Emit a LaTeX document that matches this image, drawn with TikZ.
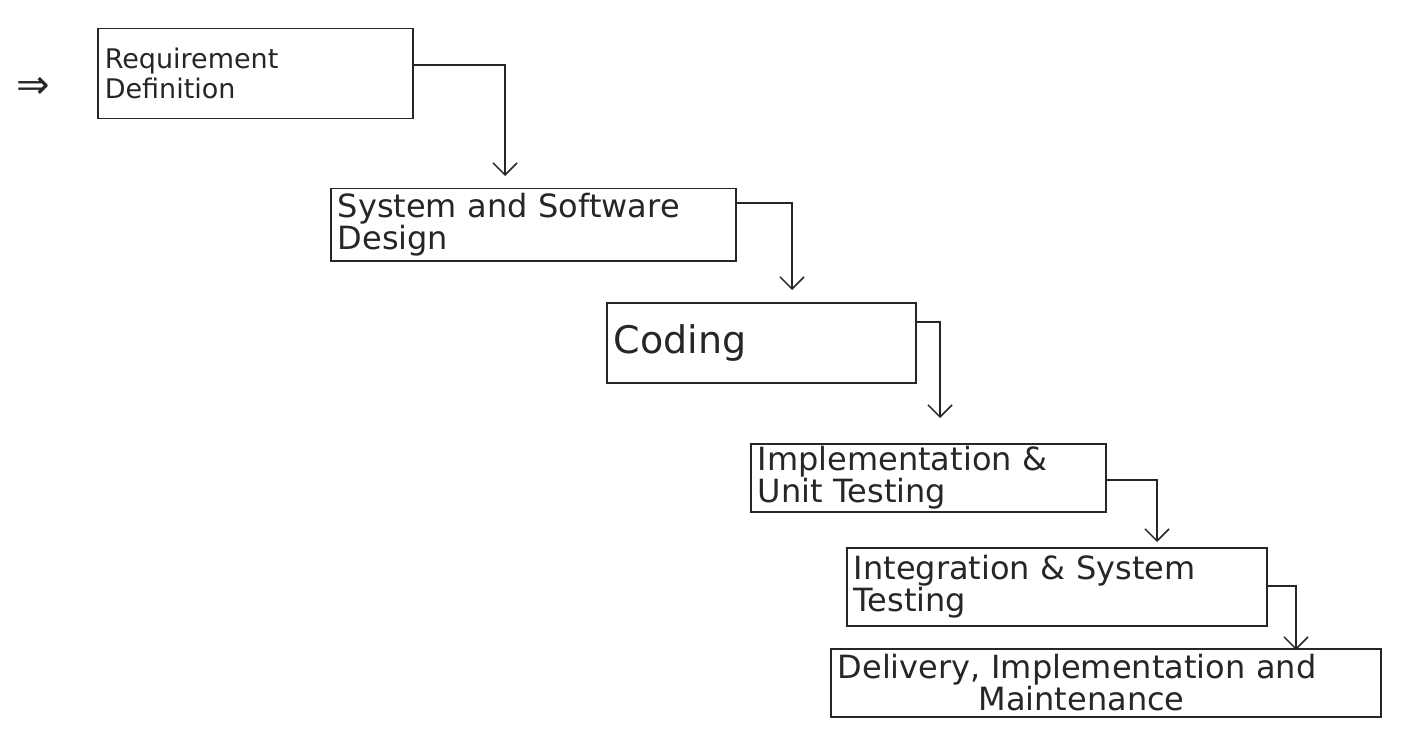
\documentclass[tikz,border=0pt]{standalone}
\usepackage{fontspec}
\setmainfont{DejaVu Sans}
\usetikzlibrary{arrows.meta,calc}
\definecolor{inkc}{HTML}{262626}
\begin{document}
\begin{tikzpicture}[x=1pt,y=-1pt,
  ink/.style={draw=inkc, line width=1.5pt},
  phase/.style={ink, rectangle, anchor=north west, inner xsep=7pt, inner ysep=2pt,
    align=left, text=inkc, font=\fontsize{32}{32}\selectfont},
  flow/.style={ink, -{Straight Barb[length=12pt,width=24pt,line width=1.5pt]}}]
  % page
  \fill[white] (0,0) rectangle (1412,735);
  \path[use as bounding box] (0,0) rectangle (1412,735);

  % marker in the margin
  \node[text=inkc, font=\fontsize{40}{40}\selectfont] (mark) at (33,88) {⇒};

  % the phases, stepping down to the right
  \node[phase, minimum width=315, minimum height=90, text width=301pt,
        font=\fontsize{27}{30}\selectfont] (r1) at (97,28)
       {Requirement\\Definition};
  \node[phase, minimum width=405, minimum height=72, text width=391pt] (r2) at (330,188)
       {System and Software\\Design};
  \node[phase, minimum width=309, minimum height=80, text width=295pt,
        font=\fontsize{38}{38}\selectfont] (r3) at (606,302)
       {Coding\\[0.5em]};
  \node[phase, minimum width=355, minimum height=68, text width=341pt] (r4) at (750,443)
       {Implementation \&\\Unit Testing};
  \node[phase, minimum width=420, minimum height=78, text width=406pt] (r5) at (846,547)
       {Integration \& System\\Testing};
  \node[phase, minimum width=550, minimum height=68, text width=536pt] (r6) at (830,648)
       {Delivery, Implementation and\\\hspace{4.4em}Maintenance};

  % hand-offs between phases
  \draw[flow] ($(r1.north east)+(0,37)$) -| ($(r2.north west)+(175,-12)$);
  \draw[flow] ($(r2.north east)+(0,15)$) -| ($(r3.north west)+(186,-12)$);
  \draw[flow] ($(r3.north east)+(0,20)$) -| ($(r4.north west)+(190,-25)$);
  \draw[flow] ($(r4.north east)+(0,37)$) -| ($(r5.north west)+(311,-5)$);
  \draw[flow] ($(r5.north east)+(0,39)$) -| ($(r6.north west)+(466,2)$);
\end{tikzpicture}
\end{document}
